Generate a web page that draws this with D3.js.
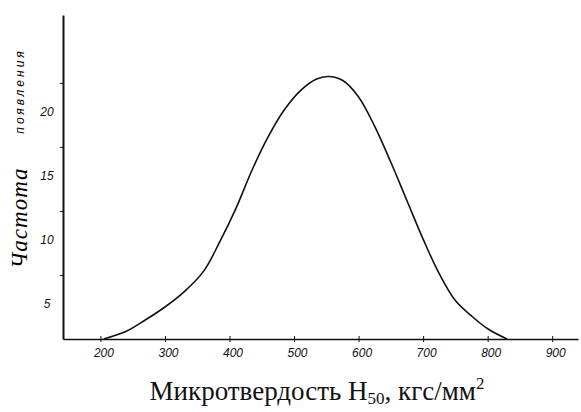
<!DOCTYPE html>
<html>
<head>
<meta charset="utf-8">
<script src="https://cdn.jsdelivr.net/npm/d3@7"></script>
<style>
    body { margin: 0; background: #fff; }
    .tick-label { font-family: "Liberation Sans", sans-serif; font-style: italic; font-size: 12px; fill: #111; }
</style>
</head>
<body>
<script>
// chart data
const hardness = [205, 240, 270, 300, 330, 360, 385, 410, 435, 460, 485, 510, 535, 553, 575, 600, 625, 650, 675, 700, 725, 750, 775, 800, 830];
const frequency = [0, 0.6, 1.5, 2.5, 3.7, 5.3, 7.6, 10.2, 13.2, 15.8, 17.9, 19.4, 20.3, 20.5, 20.2, 18.9, 16.6, 13.8, 10.8, 7.8, 5.1, 3.0, 1.8, 0.8, 0];

const xTicks = [200, 300, 400, 500, 600, 700, 800, 900];
const yTicks = [5, 10, 15, 20];

const width = 581, height = 412;

var svg = d3.select("body")
    .append("svg")
    .attr("width", width)
    .attr("height", height);

// scales (axis runs a bit past the first and last tick)
var x = d3.scaleLinear()
    .domain([142, 940])
    .range([63, 578]);

var y = d3.scaleLinear()
    .domain([0, 25.3])
    .range([339, 15]);

// x axis
var xAxis = svg.append("g")
    .attr("transform", "translate(0," + y(0) + ")")
    .call(d3.axisBottom(x).tickValues(xTicks).tickSize(3).tickSizeOuter(0));
xAxis.select(".domain").attr("stroke", "#111").attr("stroke-width", 1.6);
xAxis.selectAll(".tick line").attr("stroke", "#111").attr("y1", -3).attr("y2", 3);
xAxis.selectAll(".tick text")
    .attr("class", "tick-label")
    .attr("y", 9)
    .attr("dx", 3)
    .attr("dy", "0.71em");

// y axis
var yAxis = svg.append("g")
    .attr("transform", "translate(" + x(142) + ",0)")
    .call(d3.axisLeft(y).tickValues(yTicks).tickSize(3).tickSizeOuter(0));
yAxis.select(".domain").attr("stroke", "#111").attr("stroke-width", 2);
yAxis.selectAll(".tick line").attr("stroke", "#111");
// the numbers sit lower than their ticks on the original
yAxis.selectAll(".tick text")
    .attr("class", "tick-label")
    .attr("x", -16)
    .attr("text-anchor", "middle")
    .attr("dy", 29 + 4);

// the curve
var line = d3.line()
    .x(function (d, i) { return x(hardness[i]); })
    .y(function (d) { return y(d); })
    .curve(d3.curveCatmullRom.alpha(0.5));

svg.append("path")
    .datum(frequency)
    .attr("fill", "none")
    .attr("stroke", "#111")
    .attr("stroke-width", 1.6)
    .attr("d", line);

// y title, rotated
var yTitle = svg.append("g")
    .attr("transform", "translate(27,0) rotate(-90)");
yTitle.append("text")
    .attr("x", -218)
    .attr("y", 0)
    .attr("text-anchor", "middle")
    .style("font-family", "Liberation Serif, serif")
    .style("font-style", "italic")
    .style("font-size", "23px")
    .style("letter-spacing", "1px")
    .text("Частота");
yTitle.append("text")
    .attr("x", -91)
    .attr("y", -3)
    .attr("text-anchor", "middle")
    .style("font-family", "Liberation Sans, sans-serif")
    .style("font-style", "italic")
    .style("font-size", "12px")
    .style("letter-spacing", "3px")
    .text("появления");

// x title
var xTitle = svg.append("text")
    .attr("x", 317)
    .attr("y", 400)
    .attr("text-anchor", "middle")
    .style("font-family", "Liberation Serif, serif")
    .style("font-size", "27px")
    .style("fill", "#111");
xTitle.append("tspan").text("Микротвердость H");
xTitle.append("tspan").attr("dy", 4).style("font-size", "17px").text("50");
xTitle.append("tspan").attr("dy", -4).text(", кгс/мм");
xTitle.append("tspan").attr("dy", -11).style("font-size", "17px").text("2");
</script>
</body>
</html>
